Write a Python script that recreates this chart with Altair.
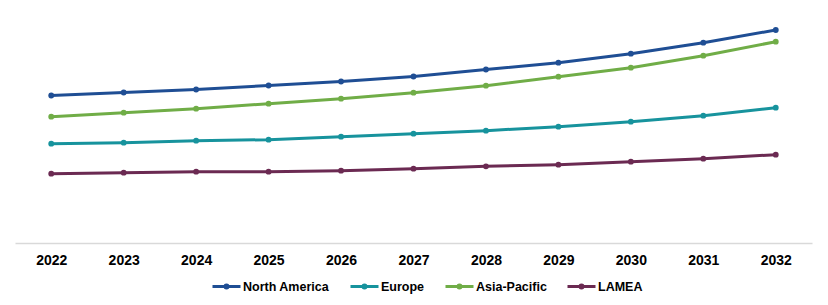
import altair as alt
import pandas as pd

years = ["2022", "2023", "2024", "2025", "2026", "2027", "2028", "2029", "2030", "2031", "2032"]
regions = ["North America", "Europe", "Asia-Pacific", "LAMEA"]
colors = ["#1f4e94", "#17939d", "#70ad47", "#6b2a52"]

north_america = [14.75, 15.05, 15.35, 15.75, 16.15, 16.65, 17.35, 18.03, 18.93, 20.03, 21.30]
europe = [9.93, 10.03, 10.23, 10.33, 10.63, 10.93, 11.23, 11.63, 12.13, 12.73, 13.53]
asia_pacific = [12.63, 13.03, 13.43, 13.93, 14.43, 15.03, 15.73, 16.63, 17.53, 18.73, 20.13]
lamea = [6.93, 7.03, 7.13, 7.13, 7.23, 7.43, 7.67, 7.83, 8.13, 8.43, 8.83]

series = [north_america, europe, asia_pacific, lamea]
rows = []
for r, vals in zip(regions, series):
    for y, v in zip(years, vals):
        rows.append({"Year": y, "Region": r, "Value": v})
df = pd.DataFrame(rows)

sym = ("M-1,0L1,0 M-0.107,0A0.107,0.107,0,1,0,0.107,0A0.107,0.107,0,1,0,-0.107,0")

chart = alt.Chart(df).mark_line(
    strokeWidth=3,
    point=alt.OverlayMarkDef(filled=True, size=34, opacity=1),
).encode(
    x=alt.X("Year:O", sort=years,
            scale=alt.Scale(type="point", padding=0.5),
            axis=alt.Axis(title=None, labelAngle=0, ticks=False, domainColor="#d9d9d9",
                          domainWidth=1.5, labelFont="Liberation Sans", labelFontWeight="bold",
                          labelFontSize=14, labelColor="#000000", labelPadding=10, grid=False)),
    y=alt.Y("Value:Q", scale=alt.Scale(domain=[0, 24.3], nice=False, zero=True),
            axis=None),
    color=alt.Color("Region:N", sort=regions,
                    scale=alt.Scale(domain=regions, range=colors),
                    legend=alt.Legend(title=None, orient="none", direction="horizontal",
                                      legendX=196, legendY=271, symbolType=sym,
                                      symbolSize=784, symbolStrokeWidth=3, labelOffset=1,
                                      columnPadding=14, padding=0,
                                      labelFont="Liberation Sans", labelFontWeight="bold",
                                      labelFontSize=12.5, labelColor="#000000")),
    order=alt.Order("Year:O"),
).properties(
    width=797, height=243,
    background="#ffffff",
    autosize=alt.AutoSizeParams(type="none"),
    padding={"left": 15, "top": 0, "right": 16, "bottom": 62},
).configure_view(stroke=None)

chart.save("out.html", embed_options={"renderer": "svg", "actions": False})
